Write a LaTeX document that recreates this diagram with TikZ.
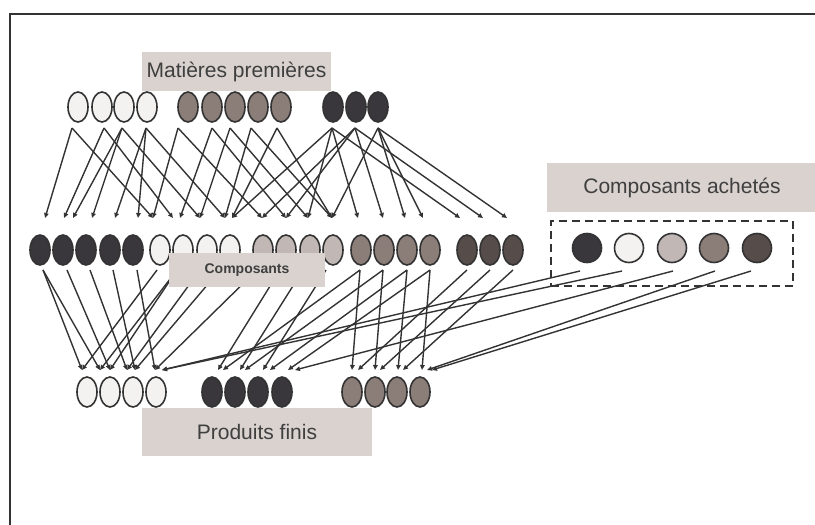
\documentclass[tikz,border=0pt]{standalone}
\usepackage{fontspec}
\setmainfont{Liberation Sans}
\usetikzlibrary{arrows.meta,shapes.geometric}
\definecolor{boxgray}{HTML}{D9D2CF}
\definecolor{txt}{HTML}{3F3F3F}
\definecolor{ln}{HTML}{333333}
\definecolor{cwhite}{HTML}{F3F2F0}
\definecolor{cgray}{HTML}{8B7D78}
\definecolor{cdark}{HTML}{3A373C}
\definecolor{clight}{HTML}{C1B8B5}
\definecolor{cbrown}{HTML}{564C4A}
\tikzset{
  ell/.style={ellipse, draw=ln, line width=1.6pt, minimum width=20pt, minimum height=30pt, inner sep=0pt},
  circ/.style={circle, draw=ln, line width=1.6pt, minimum size=29pt, inner sep=0pt},
  arr/.style={draw=ln, line width=1.4pt, -{Triangle[width=4.5pt,length=5pt]}},
  lbl/.style={fill=boxgray, text=txt, inner sep=0pt, font=\fontsize{21}{25}\selectfont},
}
\begin{document}
\begin{tikzpicture}[x=1pt,y=-1pt]
\useasboundingbox (0,0) rectangle (815,525);
\draw[ln, line width=1.7pt] (10,525) -- (10,14) -- (815,14);
% arrow end coordinates
\foreach \x in {72,104,122,146,178,212,230,251,277,332,355,378}
  \coordinate (u\x) at (\x,128);
\foreach \x in {45,64,73,92,115,138,153,173,180,200,225,232,262,286,308,332,358,383,405,423,460,483,507}
  \coordinate (d\x) at (\x,218);
\foreach \x in {43,67,90,113,137,157,177,200,220,257,280,303,326,360,383,407,430,467,490,513}
  \coordinate (v\x) at (\x,270);
\foreach \x in {82,100,110,127,135,155,162,218,223,240,245,263,270,288,295,352,358,375,380,398,403,422,427,432}
  \coordinate (w\x) at (\x,370);
% top -> middle
\foreach \a/\b in {72/45,72/153,104/64,104/173,122/73,122/92,122/200,146/115,146/138,146/225,
  178/153,178/262,212/180,212/286,230/200,230/308,251/225,251/332,277/232,277/332,
  332/232,332/308,332/358,332/460,355/262,355/286,355/383,355/483,378/332,378/405,378/423,378/507}
  \draw[arr] (u\a) -- (d\b);
% middle -> bottom
\foreach \a/\b in {43/82,43/100,67/110,90/127,113/135,137/155,157/82,177/100,177/110,200/127,220/135,
  257/155,280/218,303/240,326/263,360/352,360/223,383/375,383/245,407/398,407/270,430/422,430/288,
  467/358,490/380,513/403}
  \draw[arr] (v\a) -- (w\b);
% purchased
\coordinate (p1s) at (580,271); \coordinate (p2s) at (622,271); \coordinate (p3s) at (673,271);
\coordinate (p4s) at (715,271); \coordinate (p5s) at (751,271);
\draw[arr] (p1s) -- (w162);
\draw[arr] (p2s) -- (w162);
\draw[arr] (p3s) -- (w295);
\draw[arr] (p4s) -- (w427);
\draw[arr] (p5s) -- (w432);
% top row
\foreach \x/\c [count=\i] in {78/cwhite,102/cwhite,124/cwhite,147/cwhite,188/cgray,212/cgray,235/cgray,258/cgray,281/cgray,333/cdark,356/cdark,378/cdark}
  \node[ell, fill=\c] (t\i) at (\x,107) {};
% middle row
\foreach \x/\c [count=\i] in {40/cdark,63/cdark,86/cdark,110/cdark,133/cdark,160/cwhite,183/cwhite,207/cwhite,230/cwhite,263/clight,286/clight,310/clight,333/clight,361/cgray,384/cgray,407/cgray,430/cgray,467/cbrown,490/cbrown,513/cbrown}
  \node[ell, fill=\c] (m\i) at (\x,250) {};
% bottom row
\foreach \x/\c [count=\i] in {87/cwhite,110/cwhite,133/cwhite,156/cwhite,212/cdark,235/cdark,258/cdark,282/cdark,352/cgray,375/cgray,397/cgray,420/cgray}
  \node[ell, fill=\c] (b\i) at (\x,392) {};
% purchased
\foreach \x/\c [count=\i] in {587/cdark,629/cwhite,672/clight,714/cgray,757/cbrown}
  \node[circ, fill=\c] (p\i) at (\x,248) {};
\node[draw=ln, dashed, dash pattern=on 8pt off 5pt, line width=2pt, minimum width=242pt, minimum height=65pt, inner sep=0pt] (pbox) at (672,253.5) {};
% labels
\node[lbl, minimum width=189pt, minimum height=39pt] (mp) at (236.5,71.5) {Matières premières};
\node[lbl, minimum width=156pt, minimum height=34pt, font=\fontsize{14}{16}\selectfont\bfseries] (co) at (247,270) {Composants};
\node[lbl, minimum width=270pt, minimum height=49pt] (ca) at (682,187.5) {Composants achetés};
\node[lbl, minimum width=230pt, minimum height=48pt] (pf) at (257,432) {Produits finis};
\end{tikzpicture}
\end{document}
